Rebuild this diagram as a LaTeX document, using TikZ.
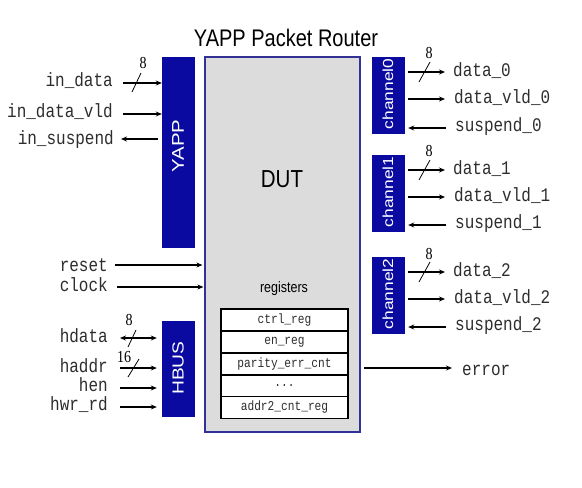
\documentclass[tikz,border=0pt]{standalone}
\usepackage{fontspec}
\setmainfont{Liberation Serif}
\setsansfont{Liberation Sans}
\setmonofont{Liberation Mono}
\usetikzlibrary{arrows.meta}
\definecolor{navyfill}{RGB}{10,10,160}
\definecolor{dutfill}{RGB}{220,220,220}
\definecolor{dutline}{RGB}{50,50,150}
\definecolor{txt}{RGB}{45,45,45}
\begin{document}
\begin{tikzpicture}[x=1pt,y=-1pt,
  bluebox/.style={draw=navyfill, fill=navyfill, minimum width=32pt, inner sep=0pt},
  boxlabel/.style={text=white, rotate=90, inner sep=0pt},
  sig/.style={font=\ttfamily\fontsize{16}{16}\selectfont, text=txt, yscale=1.2, inner sep=0pt},
  num/.style={font=\rmfamily\fontsize{14}{14}\selectfont, text=black, yscale=1.2, inner sep=0pt},
  wire/.style={line width=1.1pt, -{Stealth[length=6pt,width=5pt]}},
  dwire/.style={line width=1.1pt, {Stealth[length=6pt,width=5pt]}-{Stealth[length=6pt,width=5pt]}},
  bus/.style={line width=0.8pt},
  regrow/.style={draw=black, line width=1.2pt, fill=white, minimum width=127pt, minimum height=18.2pt, yscale=1.2, inner sep=0pt, font=\ttfamily\fontsize{11.2}{11.2}\selectfont, text=txt}
]
\useasboundingbox (0,0) rectangle (582,488);

% title
\node[font=\sffamily\fontsize{20}{20}\selectfont, text=black, yscale=1.2, anchor=base, inner sep=0pt] (title) at (286,46) {YAPP Packet Router};

% DUT
\node[draw=dutline, fill=dutfill, line width=1.2pt, minimum width=155pt, minimum height=375pt, inner sep=0pt] (dut) at (282.5,244.5) {};
\node[font=\sffamily\fontsize{20.5}{20.5}\selectfont, text=black, yscale=1.2, anchor=base, inner sep=0pt] (dutlbl) at (282,187) {DUT};
\node[font=\sffamily\fontsize{12.5}{12.5}\selectfont, text=black, yscale=1.2, anchor=base, inner sep=0pt] (reglbl) at (284,292) {registers};

% registers
\node[regrow] (r1) at (284.5,320) {ctrl\_reg};
\node[regrow] (r2) at (284.5,342) {en\_reg};
\node[regrow] (r3) at (284.5,364) {parity\_err\_cnt};
\node[regrow] (r4) at (284.5,386) {...};
\node[regrow] (r5) at (284.5,407.5) {addr2\_cnt\_reg};

% blue blocks
\node[bluebox, minimum height=190pt] (yapp) at (178,152) {};
\node[boxlabel, font=\sffamily\fontsize{17}{17}\selectfont] (yappl) at (178,146) {\scalebox{1.2}[1]{YAPP}};
\node[bluebox, minimum height=95pt] (hbus) at (178,368.5) {};
\node[boxlabel, font=\sffamily\fontsize{16}{16}\selectfont] (hbusl) at (178,368) {\scalebox{1.2}[1]{HBUS}};
\node[bluebox, minimum height=76pt] (ch0) at (388,95) {};
\node[boxlabel, font=\sffamily\fontsize{14.5}{14.5}\selectfont] (ch0l) at (388,94) {\scalebox{1.2}[1]{channel0}};
\node[bluebox, minimum height=76pt] (ch1) at (388,193) {};
\node[boxlabel, font=\sffamily\fontsize{14.5}{14.5}\selectfont] (ch1l) at (388,192) {\scalebox{1.2}[1]{channel1}};
\node[bluebox, minimum height=76pt] (ch2) at (388,295) {};
\node[boxlabel, font=\sffamily\fontsize{14.5}{14.5}\selectfont] (ch2l) at (388,294) {\scalebox{1.2}[1]{channel2}};

% left YAPP signals
\node[sig, anchor=base east] (l1) at (113,86) {in\_data};
\node[sig, anchor=base east] (l2) at (113,117) {in\_data\_vld};
\node[sig, anchor=base east] (l3) at (114,144) {in\_suspend};
\coordinate (a1) at (123,83);
\coordinate (a2) at (123,114);
\coordinate (a3) at (121,139);
\draw[wire] (a1) -- (a1 -| yapp.west);
\draw[bus] (132,92) -- (141,73);
\node[num] (n1) at (143,63) {8};
\draw[wire] (a2) -- (a2 -| yapp.west);
\draw[wire] ([xshift=-4pt]a3 -| yapp.west) -- (a3);

% reset / clock
\node[sig, anchor=base east] (l4) at (108,271) {reset};
\node[sig, anchor=base east] (l5) at (108,291) {clock};
\coordinate (a4) at (115,265);
\coordinate (a5) at (117,287);
\draw[wire] (a4) -- ([xshift=-2pt]a4 -| dut.west);
\draw[wire] (a5) -- ([xshift=-1pt]a5 -| dut.west);

% HBUS signals
\node[sig, anchor=base east] (l6) at (108,342) {hdata};
\node[sig, anchor=base east] (l7) at (108,372) {haddr};
\node[sig, anchor=base east] (l8) at (108,391) {hen};
\node[sig, anchor=base east] (l9) at (108,410) {hwr\_rd};
\coordinate (a6) at (120,338);
\coordinate (a7) at (120,368);
\coordinate (a8) at (120,388);
\coordinate (a9) at (120,407);
\draw[dwire] (a6) -- ([xshift=-5pt]a6 -| hbus.west);
\draw[bus] (128,347) -- (136,330);
\node[num] (n2) at (129,320) {8};
\draw[wire] (a7) -- ([xshift=-5pt]a7 -| hbus.west);
\draw[bus] (128,377) -- (139,359);
\node[num] (n3) at (124,357) {16};
\draw[wire] (a8) -- ([xshift=-5pt]a8 -| hbus.west);
\draw[wire] (a9) -- ([xshift=-5pt]a9 -| hbus.west);

% channel 0
\coordinate (c0a) at (445,72);
\coordinate (c0b) at (445,99);
\coordinate (c0c) at (446,128);
\draw[wire] ([xshift=4pt]c0a -| ch0.east) -- (c0a);
\draw[bus] (419,82) -- (430,62);
\node[num] (n4) at (429,53) {8};
\draw[wire] ([xshift=4pt]c0b -| ch0.east) -- (c0b);
\draw[wire] (c0c) -- ([xshift=4pt]c0c -| ch0.east);
\node[sig, anchor=base west] (d0) at (453,76) {data\_0};
\node[sig, anchor=base west] (v0) at (454,103) {data\_vld\_0};
\node[sig, anchor=base west] (s0) at (455,131) {suspend\_0};

% channel 1
\coordinate (c1a) at (445,170);
\coordinate (c1b) at (445,197);
\coordinate (c1c) at (446,225);
\draw[wire] ([xshift=4pt]c1a -| ch1.east) -- (c1a);
\draw[bus] (419,180) -- (430,160);
\node[num] (n5) at (429,151) {8};
\draw[wire] ([xshift=4pt]c1b -| ch1.east) -- (c1b);
\draw[wire] (c1c) -- ([xshift=4pt]c1c -| ch1.east);
\node[sig, anchor=base west] (d1) at (453,174) {data\_1};
\node[sig, anchor=base west] (v1) at (454,201) {data\_vld\_1};
\node[sig, anchor=base west] (s1) at (455,228) {suspend\_1};

% channel 2
\coordinate (c2a) at (445,272);
\coordinate (c2b) at (445,299);
\coordinate (c2c) at (446,327);
\draw[wire] ([xshift=4pt]c2a -| ch2.east) -- (c2a);
\draw[bus] (419,282) -- (430,262);
\node[num] (n6) at (429,254) {8};
\draw[wire] ([xshift=4pt]c2b -| ch2.east) -- (c2b);
\draw[wire] (c2c) -- ([xshift=4pt]c2c -| ch2.east);
\node[sig, anchor=base west] (d2) at (453,276) {data\_2};
\node[sig, anchor=base west] (v2) at (454,303) {data\_vld\_2};
\node[sig, anchor=base west] (s2) at (455,330) {suspend\_2};

% error
\coordinate (e0) at (364,368);
\coordinate (e1) at (452,368);
\draw[wire] (e0) -- (e1);
\node[sig, anchor=base west] (err) at (462,375) {error};
\end{tikzpicture}
\end{document}
